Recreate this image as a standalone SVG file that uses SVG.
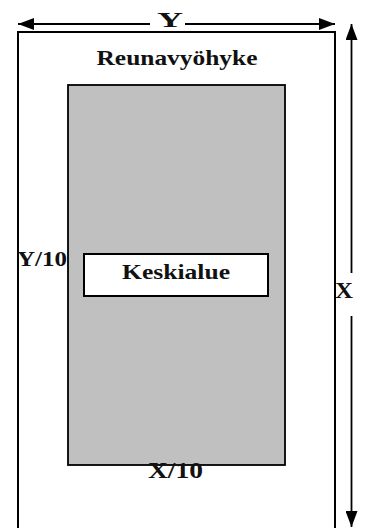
<svg xmlns="http://www.w3.org/2000/svg" width="368" height="528" viewBox="0 0 368 528">
<style>
.t{font-family:"Liberation Serif","Times New Roman",serif;font-weight:bold;fill:#111;}
.ln{stroke:#000;stroke-width:1.8;fill:none;}
</style>
<defs>
<marker id="ah" viewBox="0 0 16 12" refX="16" refY="6" markerWidth="16" markerHeight="12" markerUnits="userSpaceOnUse" orient="auto-start-reverse">
<path d="M0,0 L16,6 L0,12 Z" fill="#000"/>
</marker>
</defs>
<rect width="368" height="528" fill="#fff"/>
<g id="outer">
<rect x="18" y="32" width="317" height="520" fill="#fff" stroke="#000" stroke-width="2"/>
<text class="t" x="177" y="65" font-size="21" text-anchor="middle" textLength="161" lengthAdjust="spacingAndGlyphs">Reunavyöhyke</text>
</g>
<g id="inner">
<rect x="68" y="85" width="217" height="380" fill="#c0c0c0" stroke="#000" stroke-width="1.8"/>
</g>
<g id="keskialue">
<rect x="84" y="254" width="184" height="42" fill="#fff" stroke="#000" stroke-width="2"/>
<text class="t" x="176" y="279" font-size="21" text-anchor="middle" textLength="108" lengthAdjust="spacingAndGlyphs">Keskialue</text>
</g>
<g id="connectors">
<line class="ln" x1="150" y1="24" x2="18" y2="24" marker-end="url(#ah)"/>
<line class="ln" x1="185" y1="24" x2="335" y2="24" marker-end="url(#ah)"/>
<line class="ln" x1="351.5" y1="273" x2="351.5" y2="24" marker-end="url(#ah)"/>
<line class="ln" x1="351.5" y1="316" x2="351.5" y2="527" marker-end="url(#ah)"/>
</g>
<g id="labels">
<text class="t" x="157" y="27" font-size="21" textLength="26" lengthAdjust="spacingAndGlyphs">Y</text>
<text class="t" x="17" y="266" font-size="22" textLength="50" lengthAdjust="spacingAndGlyphs">Y/10</text>
<text class="t" x="335" y="298" font-size="23" textLength="18" lengthAdjust="spacingAndGlyphs">X</text>
<text class="t" x="148" y="478" font-size="23" textLength="55" lengthAdjust="spacingAndGlyphs">X/10</text>
</g>
</svg>
